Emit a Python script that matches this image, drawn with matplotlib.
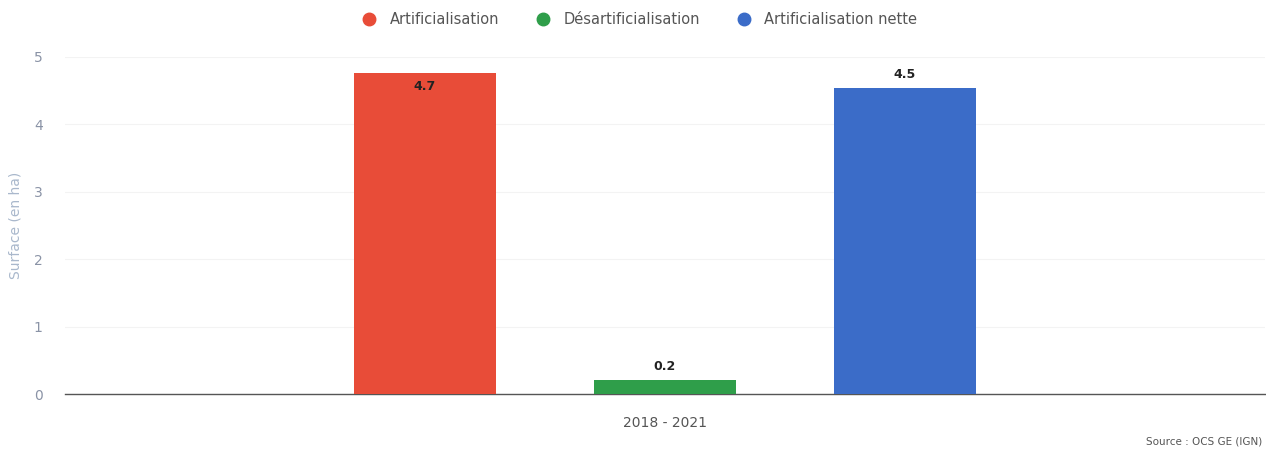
import matplotlib
matplotlib.use("Agg")
import matplotlib.pyplot as plt
from matplotlib.lines import Line2D

categories = ["2018 - 2021"]
series_names = ["Artificialisation", "Désartificialisation", "Artificialisation nette"]
series_values = [4.76, 0.21, 4.54]
value_labels = ["4.7", "0.2", "4.5"]
colors = ["#e84c38", "#2f9e4a", "#3b6cc8"]
yticks = [0, 1, 2, 3, 4, 5]

plt.rcParams['font.family'] = ['DejaVu Sans']

fig = plt.figure(figsize=(12.66, 4.53), dpi=100)
ax = fig.add_axes([65/1266, 1 - 394/453, 1200/1266, (394 - 57)/453])
ax.set_ylim(0, 5)
ax.set_xlim(-0.5, 0.5)

offsets = [-0.2, 0.0, 0.2]
width = 0.119
for off, v, c, lab in zip(offsets, series_values, colors, value_labels):
    ax.bar(off, v, width=width, color=c, zorder=3)
    if v > 4.6:
        ax.annotate(lab, (off, v), xytext=(0, -5), textcoords="offset points",
                    ha="center", va="top", fontsize=9, fontweight="bold", color="#222222", zorder=4)
    else:
        ax.annotate(lab, (off, v), xytext=(0, 5), textcoords="offset points",
                    ha="center", va="bottom", fontsize=9, fontweight="bold", color="#222222", zorder=4)

ax.set_yticks(yticks)
ax.set_yticklabels([str(t) for t in yticks], color="#8a93a6", fontsize=10)
ax.set_xticks([0])
ax.set_xticklabels(categories, color="#555555", fontsize=10)
ax.tick_params(axis="y", length=0, pad=16)
ax.tick_params(axis="x", length=0, pad=16)
ax.grid(axis="y", color="#f3f3f3", linewidth=0.8, zorder=0)
for s in ["top", "right", "left"]:
    ax.spines[s].set_visible(False)
ax.spines["bottom"].set_color("#555555")
ax.spines["bottom"].set_linewidth(1.0)
ax.set_ylabel("Surface (en ha)", color="#a9b8cc", fontsize=10, labelpad=0)
ax.yaxis.set_label_coords(-42/1200, 0.5)

handles = [Line2D([0], [0], marker="o", color="none", markerfacecolor=c, markeredgecolor=c,
                  markersize=9) for c in colors]
fig.legend(handles, series_names, loc="center", bbox_to_anchor=(636/1266, 1 - 20/453), ncol=3,
           frameon=False, fontsize=10.5, labelcolor="#555555", handletextpad=0.4, columnspacing=2.0)

fig.text(1262/1266, 1 - 441/453, "Source : OCS GE (IGN)", ha="right", va="center",
         fontsize=7.5, color="#555555")

fig.savefig("out.png", dpi=100)
